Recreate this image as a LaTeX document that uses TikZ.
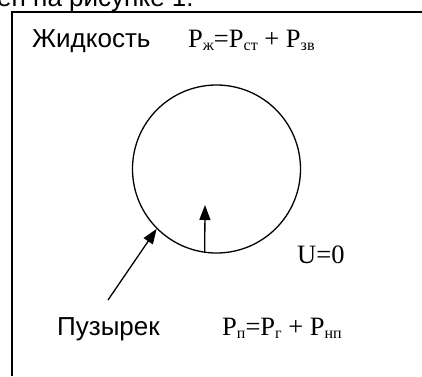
\documentclass[tikz,border=0pt]{standalone}
\usepackage{fontspec}
\setmainfont{Liberation Serif}
\newfontfamily\arialf{Liberation Sans}
\usetikzlibrary{arrows.meta}
\newcommand{\subs}[1]{\raisebox{-3.5pt}{\fontsize{16}{16}\selectfont #1}}
\tikzset{
  frameline/.style={line width=1.5pt},
  sanslabel/.style={font=\arialf\fontsize{26}{26}\selectfont, inner sep=0pt, anchor=base west},
  seriflabel/.style={font=\fontsize{26.5}{26.5}\selectfont, inner sep=0pt, anchor=base west},
  arr/.style={line width=1.3pt, -{Triangle[length=15pt,width=11pt]}}
}
\begin{document}
\begin{tikzpicture}[x=1pt,y=-1pt]
\useasboundingbox (0,0) rectangle (422,376);
\clip (0,0) rectangle (422,376);
\node[sanslabel] (top) at (-3,6.5) {ен на рисунке 1.};
\coordinate (fa) at (12,376);
\coordinate (fb) at (12,12);
\coordinate (fc) at (422,12);
\draw[frameline] (fa) -- (fb) -- (fc);
\node[sanslabel] (liq) at (32,47) {Жидкость};
\node[seriflabel] (pl) at (188,47) {P\subs{ж}=P\subs{ст} + P\subs{зв}};
\node[draw, circle, line width=1.3pt, minimum size=168pt, inner sep=0pt] (bubble) at (216.5,169) {};
\coordinate (up) at (205,205);
\draw[arr] (bubble.262) -- (up);
\node[seriflabel] (u) at (297,263) {U=0};
\coordinate (ps) at (108,300);
\draw[arr] (ps) -- (bubble.225);
\node[sanslabel] (bub) at (57,335) {Пузырек};
\node[seriflabel] (pp) at (222,335) {P\subs{п}=P\subs{г} + P\subs{нп}};
\end{tikzpicture}
\end{document}
